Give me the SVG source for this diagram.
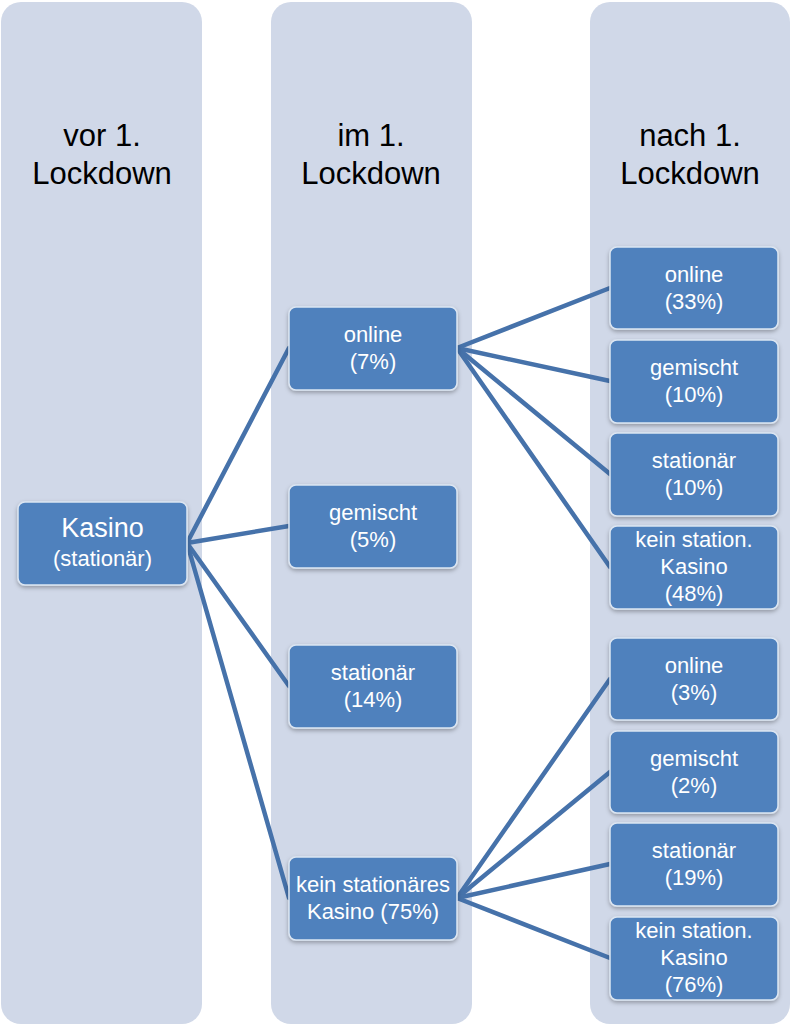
<svg xmlns="http://www.w3.org/2000/svg" width="791" height="1026" viewBox="0 0 791 1026">
<defs>
<filter id="sh" x="-10%" y="-10%" width="120%" height="130%">
<feDropShadow dx="0" dy="2" stdDeviation="2" flood-color="#000" flood-opacity="0.3"/>
</filter>
<style>
.col{fill:#D0D8E8}
.hd{font-family:"Liberation Sans",Arial,sans-serif;font-size:31px;fill:#000;text-anchor:middle}
.nd{fill:#4F81BD;stroke:#DCE6F2;stroke-width:1.5;filter:url(#sh)}
.t{font-family:"Liberation Sans",Arial,sans-serif;font-size:22px;fill:#fff;text-anchor:middle}
.big{font-size:27px}
.cn{stroke:#4672AA;stroke-width:4.5;fill:none;stroke-linecap:round}
</style>
</defs>
<g id="columns">
<rect class="col" x="1" y="2" width="201" height="1022" rx="20"/>
<rect class="col" x="271" y="2" width="201" height="1022" rx="20"/>
<rect class="col" x="590" y="2" width="200" height="1022" rx="20"/>
<text class="hd" x="102" y="146">vor 1.</text>
<text class="hd" x="102" y="184">Lockdown</text>
<text class="hd" x="371" y="146">im 1.</text>
<text class="hd" x="371" y="184">Lockdown</text>
<text class="hd" x="690" y="146">nach 1.</text>
<text class="hd" x="690" y="184">Lockdown</text>
</g>
<g id="connectors">
<line class="cn" x1="187" y1="543" x2="289" y2="348"/>
<line class="cn" x1="187" y1="543" x2="289" y2="526"/>
<line class="cn" x1="187" y1="543" x2="289" y2="686"/>
<line class="cn" x1="187" y1="543" x2="289" y2="898"/>
<line class="cn" x1="457" y1="348" x2="610" y2="288"/>
<line class="cn" x1="457" y1="348" x2="610" y2="381"/>
<line class="cn" x1="457" y1="348" x2="610" y2="474"/>
<line class="cn" x1="457" y1="348" x2="610" y2="567"/>
<line class="cn" x1="457" y1="898" x2="610" y2="679"/>
<line class="cn" x1="457" y1="898" x2="610" y2="772"/>
<line class="cn" x1="457" y1="898" x2="610" y2="864"/>
<line class="cn" x1="457" y1="898" x2="610" y2="958"/>
</g>
<g id="kasino">
<rect class="nd" x="18" y="502" width="169" height="83" rx="7"/>
<text class="t big" x="102.5" y="537">Kasino</text>
<text class="t" x="102.5" y="566">(stationär)</text>
</g>
<g id="m-online">
<rect class="nd" x="289" y="307" width="168" height="83" rx="7"/>
<text class="t" x="373" y="342">online</text>
<text class="t" x="373" y="369">(7%)</text>
</g>
<g id="m-gemischt">
<rect class="nd" x="289" y="485" width="168" height="83" rx="7"/>
<text class="t" x="373" y="520">gemischt</text>
<text class="t" x="373" y="547">(5%)</text>
</g>
<g id="m-stationaer">
<rect class="nd" x="289" y="645" width="168" height="83" rx="7"/>
<text class="t" x="373" y="680">stationär</text>
<text class="t" x="373" y="707">(14%)</text>
</g>
<g id="m-kein">
<rect class="nd" x="289" y="857" width="168" height="83" rx="7"/>
<text class="t" x="373" y="892">kein stationäres</text>
<text class="t" x="373" y="919">Kasino (75%)</text>
</g>
<g id="r1-online">
<rect class="nd" x="610" y="247" width="168" height="82" rx="7"/>
<text class="t" x="694" y="282">online</text>
<text class="t" x="694" y="309">(33%)</text>
</g>
<g id="r1-gemischt">
<rect class="nd" x="610" y="340" width="168" height="83" rx="7"/>
<text class="t" x="694" y="375">gemischt</text>
<text class="t" x="694" y="402">(10%)</text>
</g>
<g id="r1-stationaer">
<rect class="nd" x="610" y="433" width="168" height="83" rx="7"/>
<text class="t" x="694" y="468">stationär</text>
<text class="t" x="694" y="495">(10%)</text>
</g>
<g id="r1-kein">
<rect class="nd" x="610" y="526" width="168" height="83" rx="7"/>
<text class="t" x="694" y="547">kein station.</text>
<text class="t" x="694" y="574">Kasino</text>
<text class="t" x="694" y="601">(48%)</text>
</g>
<g id="r2-online">
<rect class="nd" x="610" y="638" width="168" height="82" rx="7"/>
<text class="t" x="694" y="673">online</text>
<text class="t" x="694" y="700">(3%)</text>
</g>
<g id="r2-gemischt">
<rect class="nd" x="610" y="731" width="168" height="82" rx="7"/>
<text class="t" x="694" y="766">gemischt</text>
<text class="t" x="694" y="793">(2%)</text>
</g>
<g id="r2-stationaer">
<rect class="nd" x="610" y="823" width="168" height="83" rx="7"/>
<text class="t" x="694" y="858">stationär</text>
<text class="t" x="694" y="885">(19%)</text>
</g>
<g id="r2-kein">
<rect class="nd" x="610" y="917" width="168" height="83" rx="7"/>
<text class="t" x="694" y="938">kein station.</text>
<text class="t" x="694" y="965">Kasino</text>
<text class="t" x="694" y="992">(76%)</text>
</g>
</svg>
